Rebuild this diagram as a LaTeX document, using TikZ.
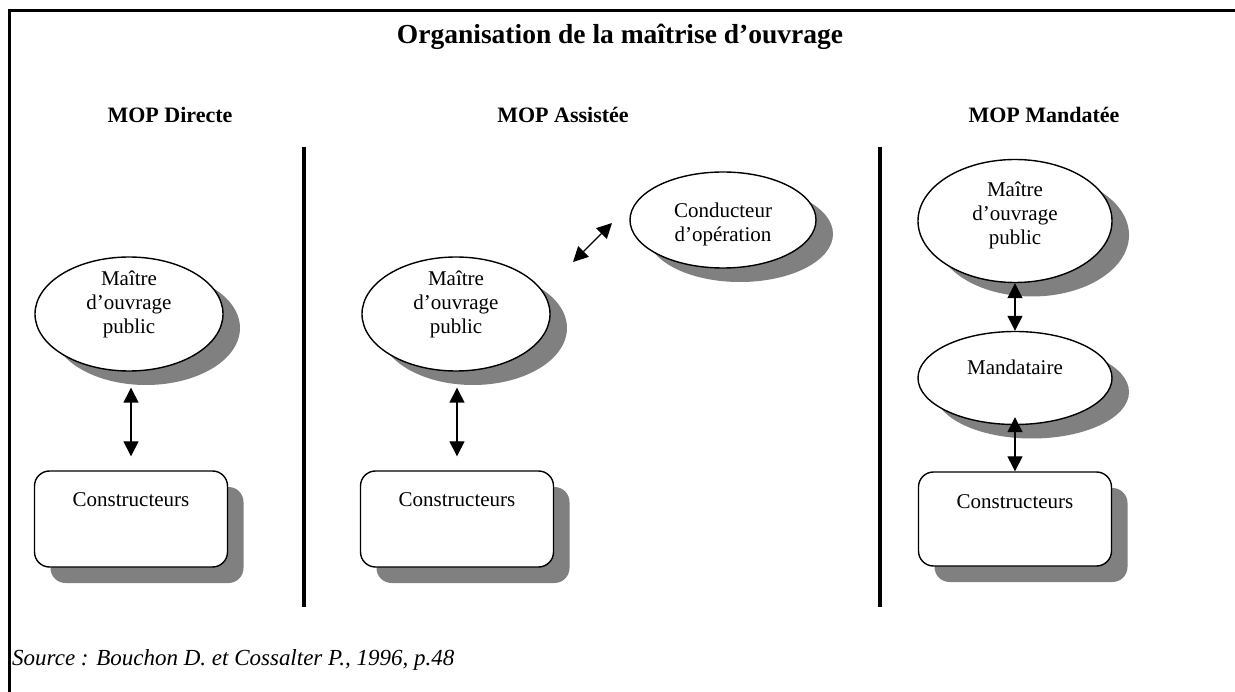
\documentclass[tikz,border=0pt]{standalone}
\usepackage{fontspec}
\setmainfont{Liberation Serif}
\usetikzlibrary{shapes.geometric,shadows,arrows.meta}
\begin{document}
\begin{tikzpicture}[x=1pt,y=-1pt,
  ell/.style={ellipse,draw,line width=1.4pt,fill=white,inner sep=0pt,
    drop shadow={shadow xshift=17pt,shadow yshift=-14pt,opacity=1,fill=black!50}},
  rbox/.style={rectangle,rounded corners=15pt,draw,line width=1.4pt,fill=white,inner sep=0pt,
    minimum width=193pt,minimum height=96pt,
    drop shadow={shadow xshift=16pt,shadow yshift=-16pt,opacity=1,fill=black!50}},
  txt/.style={font=\fontsize{21}{24}\selectfont,align=center,inner sep=0pt},
  head/.style={font=\fontsize{22}{26}\selectfont\bfseries,inner sep=0pt},
  sep/.style={line width=4pt},
  frame/.style={line width=3pt},
  arr/.style={line width=1.4pt,{Triangle[length=15pt,width=15pt]}-{Triangle[length=15pt,width=15pt]}}]
\useasboundingbox (0,0) rectangle (1235,692);
\fill[white] (0,0) rectangle (1235,692);
% frame
\coordinate (fa) at (1235,11);
\coordinate (fb) at (9,11);
\coordinate (fc) at (9,692);
\draw[frame] (fa) -- (fb) -- (fc);
% title
\node[inner sep=0pt,font=\fontsize{27.5}{32}\selectfont\bfseries] (title) at (620,37) {Organisation de la maîtrise d’ouvrage};
\node[head] (h1) at (170,115) {MOP Directe};
\node[head] (h2) at (563,115) {MOP Assistée};
\node[head] (h3) at (1044,115) {MOP Mandatée};
% separators
\coordinate (s1a) at (304,147); \coordinate (s1b) at (304,607);
\coordinate (s2a) at (880,147); \coordinate (s2b) at (880,607);
\draw[sep] (s1a) -- (s1b);
\draw[sep] (s2a) -- (s2b);
% Directe
\node[ell,minimum width=188pt,minimum height=114pt] (e1) at (129,314) {};
\node[txt] (t1) at ([yshift=10pt]e1.center) {Maître\\d’ouvrage\\public};
\node[rbox] (r1) at (131,519) {};
\node[txt] (c1) at ([yshift=-29pt]r1.north) {Constructeurs};
\draw[arr,shorten <=16pt,shorten >=14pt] (r1.north |- e1.south) -- (r1.north);
% Assistee
\node[ell,minimum width=188pt,minimum height=114pt] (e2) at (456,314) {};
\node[txt] (t2) at ([yshift=10pt]e2.center) {Maître\\d’ouvrage\\public};
\node[ell,minimum width=186pt,minimum height=96pt] (e3) at (723,220) {};
\node[txt] (t3) at ([yshift=-4pt]e3.center) {Conducteur\\d’opération};
\node[rbox] (r2) at (457,519) {};
\node[txt] (c2) at ([yshift=-29pt]r2.north) {Constructeurs};
\draw[arr,shorten <=16pt,shorten >=14pt] (r2.north |- e2.south) -- (r2.north);
\coordinate (d1) at (573,262);
\coordinate (d2) at (612,223);
\draw[arr] (d1) -- (d2);
% Mandatee
\node[ell,minimum width=194pt,minimum height=123pt] (e4) at (1015,221) {};
\node[txt] (t4) at ([yshift=6pt]e4.center) {Maître\\d’ouvrage\\public};
\node[ell,minimum width=194pt,minimum height=93pt] (e5) at (1015,378) {};
\node[txt] (t5) at ([yshift=11pt]e5.center) {Mandataire};
\node[rbox,minimum height=94pt] (r3) at (1015,519) {};
\node[txt] (c3) at ([yshift=-30pt]r3.north) {Constructeurs};
\draw[arr] (e4.south) -- (e5.north);
\draw[arr,shorten <=-8pt] (e5.south) -- (r3.north);
% source
\node[anchor=west,inner sep=0pt,font=\fontsize{23}{26}\selectfont\itshape] (src) at (12,660) {Source : Bouchon D. et Cossalter P., 1996, p.48};
\end{tikzpicture}
\end{document}
